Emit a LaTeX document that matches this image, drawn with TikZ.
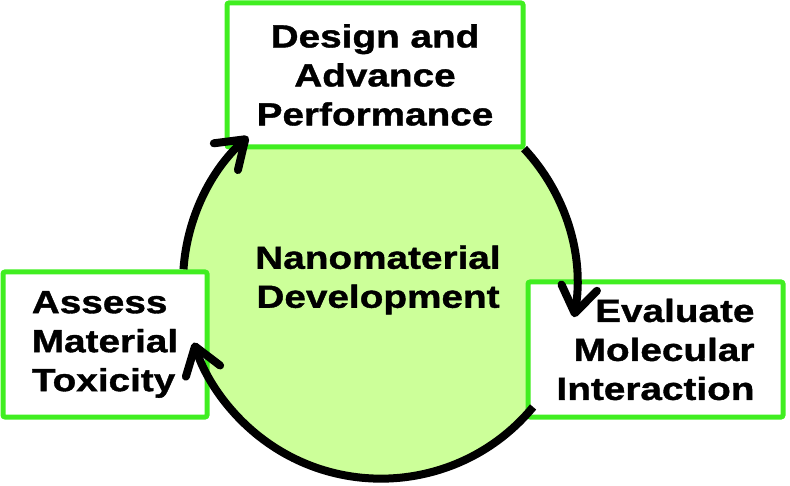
\documentclass[tikz,border=0pt]{standalone}
\usepackage{fontspec}
\setmainfont{Liberation Sans}[FakeStretch=1.21, BoldFeatures={FakeBold=1.2}]
\usetikzlibrary{arrows.meta, math}
\definecolor{mygreen}{RGB}{64,238,32}
\definecolor{mylime}{RGB}{204,255,153}

\begin{document}
\begin{tikzpicture}[x=1pt, y=1pt,
  box/.style={draw=mygreen, line width=5pt, fill=white, rounded corners=2pt, inner sep=0pt, outer sep=0pt},
  txt/.style={font=\fontsize{32}{39}\selectfont\bfseries},
  hub/.style={circle, fill=mylime, inner sep=0pt, outer sep=0pt, minimum size=2*\R},
  ring/.style={line width=8pt, -{Straight Barb[length=26pt, width=36pt, line width=8pt, round]}}]
\tikzmath{
\R=197;
}
\useasboundingbox (0,0) rectangle (790,485);

\node[hub, txt, align=center] (hub) at (380,202) {};
\node[txt, align=center] (title) at (378,205) {Nanomaterial\\Development};

\node[box, txt, align=center, minimum width=296, minimum height=144] (design) at (375,410) {Design and\\Advance\\Performance};
\node[box, txt, align=left, minimum width=204, minimum height=145] (assess) at (105,140.5) {Assess\\Material\\Toxicity};
\node[box, txt, align=right, minimum width=255, minimum height=135] (evaluate) at (655.5,135.5) {Evaluate\\Molecular\\Interaction};

\draw[ring] (hub.176) arc[start angle=176, end angle=132, radius=\R];
\draw[ring] (hub.43) arc[start angle=43, end angle=-10, radius=\R];
\draw[ring] (hub.-39.5) arc[start angle=-39.5, end angle=-162, radius=\R];
\end{tikzpicture}
\end{document}
